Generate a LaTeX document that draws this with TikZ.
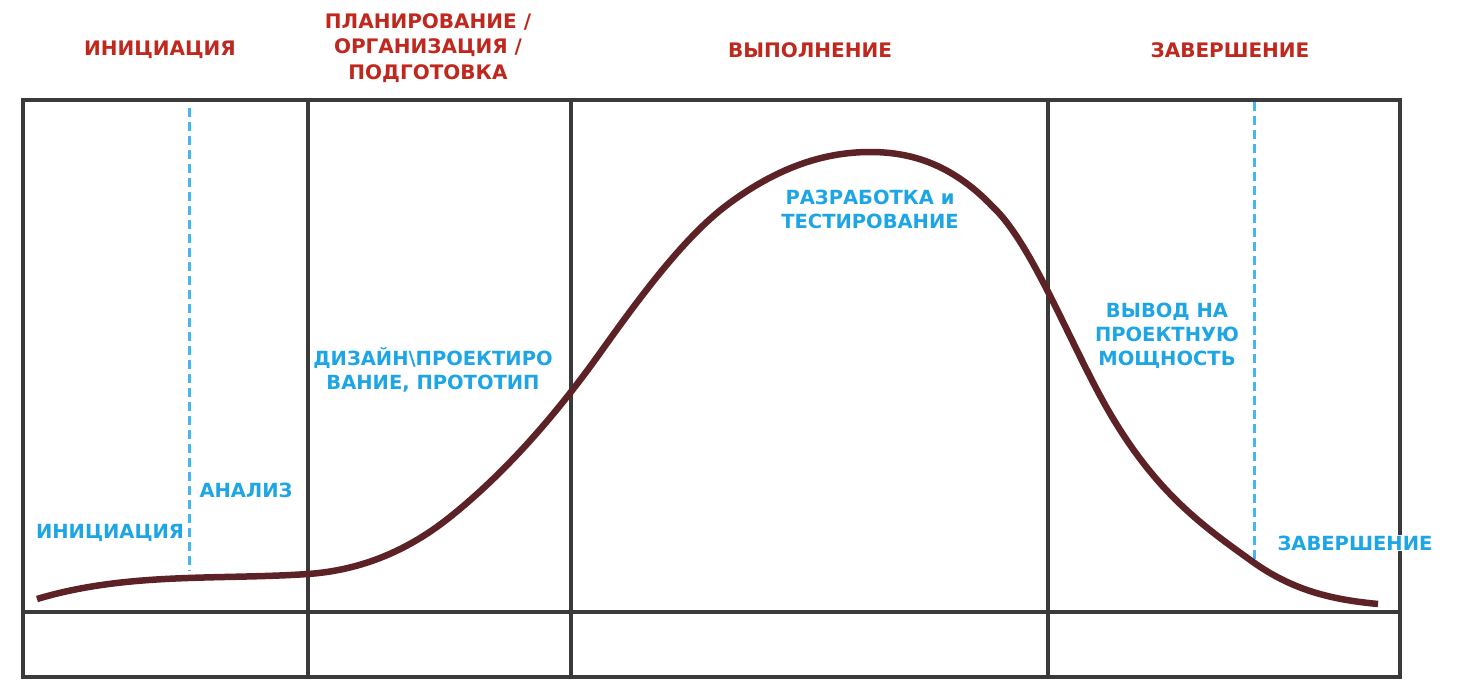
\documentclass[tikz,border=0pt]{standalone}
\usepackage{fontspec}
\setmainfont{DejaVu Sans}
\definecolor{headred}{HTML}{C0281E}
\definecolor{labblue}{HTML}{1EA5E6}
\definecolor{dashblue}{HTML}{45B6F0}
\definecolor{curvec}{HTML}{5C2226}
\definecolor{gridc}{HTML}{3A3A3A}
\tikzset{
  head/.style={text=headred, font=\bfseries\fontsize{20}{25.5}\selectfont, align=center, inner sep=0pt},
  lab/.style={text=labblue, font=\bfseries\fontsize{19.5}{24}\selectfont, align=center, inner sep=1pt},
  gridline/.style={draw=gridc, line width=3.2pt},
  phase/.style={draw=dashblue, line width=3pt, dash pattern=on 9pt off 5pt},
  curveline/.style={draw=curvec, line width=6.5pt, line cap=butt, line join=round}
}
\begin{document}
\begin{tikzpicture}[x=1pt,y=-1pt]
\useasboundingbox (0,0) rectangle (1461,685);
% frame and grid
\draw[gridline] (23,100) rectangle (1400,677);
\draw[gridline] (23,612) -- (1400,612);
\draw[gridline] (308,100) -- (308,677);
\draw[gridline] (571,100) -- (571,677);
\draw[gridline] (1048,100) -- (1048,677);
% phase separators
\coordinate (d1t) at (189,108);
\coordinate (d1b) at (189,571);
\coordinate (d2t) at (1254,102);
\coordinate (d2b) at (1254,562);
\draw[phase] (d1t) -- (d1b);
\draw[phase] (d2t) -- (d2b);
% life-cycle curve
\coordinate (k0) at (37,599);
\coordinate (k1) at (308,574);
\coordinate (k2) at (450,517);
\coordinate (k3) at (600,353);
\coordinate (k4) at (727,205);
\coordinate (k5) at (870,152);
\coordinate (k6) at (993,207);
\coordinate (k7) at (1097,390);
\coordinate (k8) at (1253,562);
\coordinate (k9) at (1378,604);
\draw[curveline] (k0)
  .. controls (127,572) and (218,580) .. (k1)
  .. controls (355,570.7) and (403,554.6) .. (k2)
  .. controls (500,477) and (550,423) .. (k3)
  .. controls (642,294) and (685,236.5) .. (k4)
  .. controls (775,169) and (822,152) .. (k5)
  .. controls (911,152) and (952,164) .. (k6)
  .. controls (1028,240) and (1062,323.5) .. (k7)
  .. controls (1149,488.8) and (1201,524.6) .. (k8)
  .. controls (1295,592) and (1336,600) .. (k9);
% headings
\node[head] (h1) at (160,50) {ИНИЦИАЦИЯ};
\node[head] (h2) at (428,48) {ПЛАНИРОВАНИЕ /\\ОРГАНИЗАЦИЯ /\\ПОДГОТОВКА};
\node[head] (h3) at (810,50) {ВЫПОЛНЕНИЕ};
\node[head] (h4) at (1230,50) {ЗАВЕРШЕНИЕ};
% stage labels
\node[lab] (l1) at (110,533) {ИНИЦИАЦИЯ};
\node[lab] (l2) at (246,490) {АНАЛИЗ};
\node[lab] (l3) at (433,370) {ДИЗАЙН\textbackslash ПРОЕКТИРО\\ВАНИЕ, ПРОТОТИП};
\node[lab] (l4) at (870,209) {РАЗРАБОТКА и\\ТЕСТИРОВАНИЕ};
\node[lab] (l5) at (1167,336) {ВЫВОД НА\\ПРОЕКТНУЮ\\МОЩНОСТЬ};
\node[lab, fill=white] (l6) at (1355,543) {ЗАВЕРШЕНИЕ};
\end{tikzpicture}
\end{document}
